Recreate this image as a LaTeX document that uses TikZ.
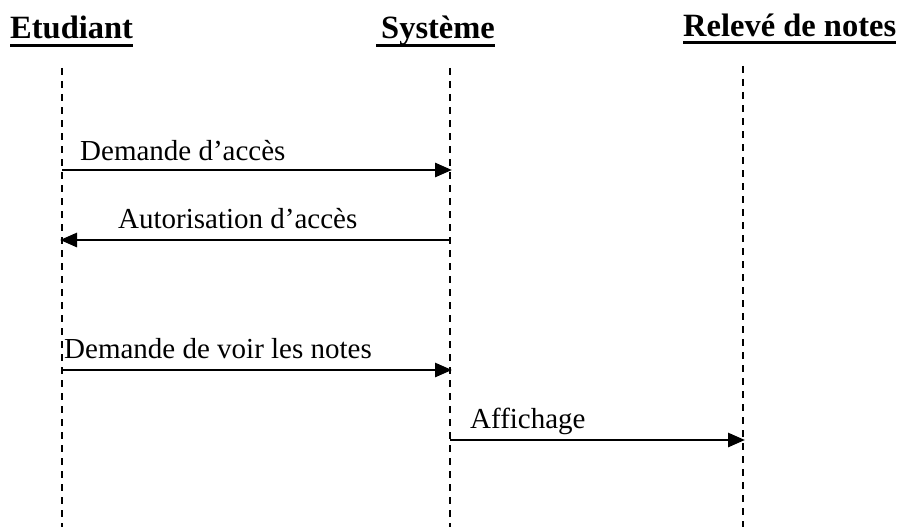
\documentclass[tikz,border=0pt]{standalone}
\usepackage{fontspec}
\setmainfont{Liberation Serif}
\usetikzlibrary{arrows.meta}
\begin{document}
\begin{tikzpicture}[x=1pt,y=-1pt,
  actor/.style={font=\fontsize{32.5}{32.5}\selectfont\bfseries, inner sep=0pt, anchor=base west},
  msglabel/.style={font=\fontsize{29}{29}\selectfont, inner sep=0pt, anchor=base west},
  uline/.style={line width=3pt},
  lifeline/.style={line width=2.4pt, dash pattern=on 7pt off 6pt},
  msg/.style={line width=2.8pt, -{Triangle[length=17pt,width=14pt]}}]
  \useasboundingbox (0,0) rectangle (900,527);

  % participants
  \node[actor] (etu) at (10,39) {Etudiant};
  \node[actor] (sys) at (381,39) {Système};
  \node[actor] (rel) at (683,37) {Relevé de notes};
  \draw[uline] ([yshift=-7pt]etu.base west) -- ([yshift=-7pt]etu.base east);
  \draw[uline] ([xshift=-5pt,yshift=-7pt]sys.base west) -- ([yshift=-7pt]sys.base east);
  \draw[uline] ([yshift=-6pt]rel.base west) -- ([yshift=-6pt]rel.base east);

  % lifelines
  \coordinate (etuTop) at (62,68);  \coordinate (etuBot) at (62,527);
  \coordinate (sysTop) at (450,68); \coordinate (sysBot) at (450,527);
  \coordinate (relTop) at (743,66); \coordinate (relBot) at (743,527);
  \draw[lifeline] (etuTop) -- (etuBot);
  \draw[lifeline] (sysTop) -- (sysBot);
  \draw[lifeline] (relTop) -- (relBot);

  % message end points
  \coordinate (e1) at (62,170);  \coordinate (s1) at (452,170);
  \coordinate (s2) at (450,240); \coordinate (e2) at (60,240);
  \coordinate (e3) at (62,370);  \coordinate (s3) at (452,370);
  \coordinate (s4) at (450,440); \coordinate (r4) at (745,440);

  % messages
  \draw[msg] (e1) -- (s1);
  \node[msglabel] (m1) at (80,160) {Demande d’accès};
  \draw[msg] (s2) -- (e2);
  \node[msglabel] (m2) at (118,228) {Autorisation d’accès};
  \draw[msg] (e3) -- (s3);
  \node[msglabel] (m3) at (64,358) {Demande de voir les notes};
  \draw[msg] (s4) -- (r4);
  \node[msglabel] (m4) at (470,428) {Affichage};
\end{tikzpicture}
\end{document}
